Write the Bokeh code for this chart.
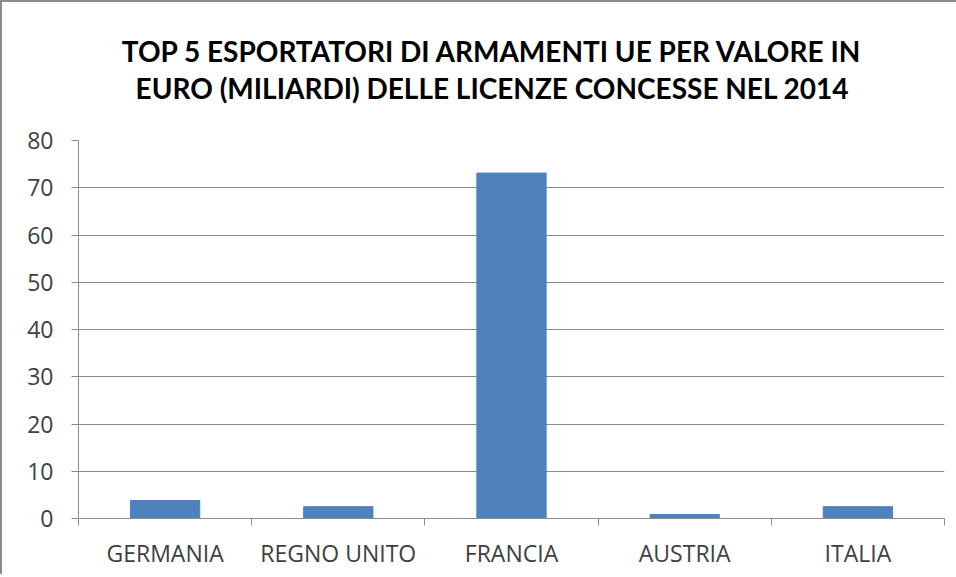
from bokeh.plotting import figure
from bokeh.layouts import column
from bokeh.models import ColumnDataSource, FixedTicker, Range1d
from bokeh.core.properties import value
from bokeh.embed import file_html
from bokeh.resources import INLINE

# Data
paesi = ["GERMANIA", "REGNO UNITO", "FRANCIA", "AUSTRIA", "ITALIA"]
valori = [3.8, 2.5, 73.1, 0.85, 2.5]
y_ticks = [0, 10, 20, 30, 40, 50, 60, 70, 80]
titolo = ["TOP 5 ESPORTATORI DI ARMAMENTI UE PER VALORE IN",
          "EURO (MILIARDI) DELLE LICENZE CONCESSE NEL 2014"]

W = 954
TITLE_H = 118

# ---- title block (a figure holding only the two title lines, in pixel-like units)
tf = figure(width=W, height=TITLE_H, output_backend="svg", toolbar_location=None,
            x_range=Range1d(0, W), y_range=Range1d(TITLE_H, 0),
            x_axis_location=None, y_axis_location=None,
            min_border=0, outline_line_color=None)
tf.grid.visible = False
tf.title = None
tf.text(x=[456, 456], y=[48, 85], text=titolo, text_align="center",
        text_baseline="middle", text_font=value("Lato"), text_font_style="bold",
        text_font_size="28px", text_color="#000000")

# ---- chart
pos = [i + 0.5 for i in range(len(paesi))]
source = ColumnDataSource(dict(x=pos, top=valori, nome=paesi))

p = figure(width=W, height=454, output_backend="svg", toolbar_location=None,
           x_range=Range1d(0, len(paesi)), y_range=Range1d(0, 80),
           min_border_left=76, min_border_right=12, min_border_bottom=56,
           min_border_top=20)
p.title = None

p.vbar(x="x", top="top", width=0.4, source=source, color="#4F81BD")

grey = "#8c8c8c"
# x axis
xa = p.xaxis[0]
xa.ticker = FixedTicker(ticks=pos, minor_ticks=list(range(len(paesi) + 1)))
xa.major_label_overrides = {p_: n for p_, n in zip(pos, paesi)}
xa.major_tick_line_color = None
xa.major_tick_out = 0
xa.major_tick_in = 0
xa.minor_tick_line_color = grey
xa.minor_tick_out = 7
xa.minor_tick_in = 0
xa.axis_line_color = grey
xa.major_label_text_font = "Open Sans"
xa.major_label_text_font_size = "23px"
xa.major_label_text_color = "#404040"
xa.major_label_standoff = 11

# y axis
ya = p.yaxis[0]
ya.ticker = FixedTicker(ticks=y_ticks)
ya.minor_tick_line_color = None
ya.major_tick_line_color = grey
ya.major_tick_out = 7
ya.major_tick_in = 0
ya.axis_line_color = grey
ya.major_label_text_font = "Open Sans"
ya.major_label_text_font_size = "23px"
ya.major_label_text_color = "#404040"
ya.major_label_standoff = 18

p.xgrid.grid_line_color = None
p.ygrid.grid_line_color = grey
p.ygrid.ticker = FixedTicker(ticks=y_ticks)
p.outline_line_color = None
p.background_fill_color = "white"
p.border_fill_color = "white"

layout = column(tf, p, spacing=0)
layout.styles = {"border-left": "2px solid #8c8c8c", "border-top": "2px solid #8c8c8c"}

open("out.html", "w").write(file_html(layout, INLINE))
